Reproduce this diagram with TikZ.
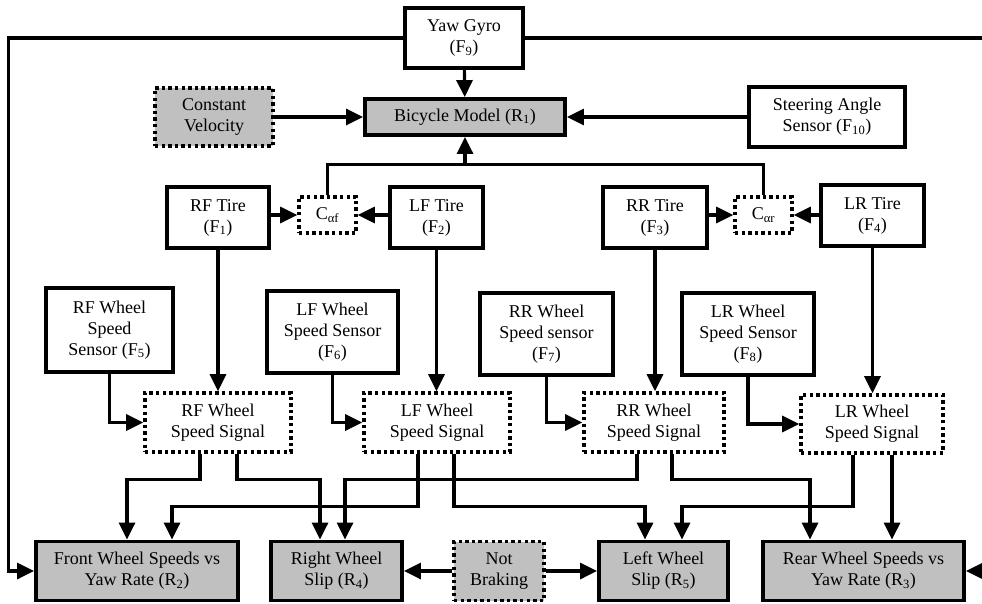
\documentclass[tikz,border=0pt]{standalone}
\usepackage{fontspec}
\setmainfont{Liberation Serif}
\usetikzlibrary{arrows.meta}
\definecolor{boxgray}{RGB}{192,192,192}
\begin{document}
\begin{tikzpicture}[x=1pt,y=-1pt,
  every node/.style={font=\fontsize{18}{21}\selectfont, align=center, inner sep=0pt},
  solidbox/.style={draw, line width=3.8pt},
  dotbox/.style={draw, line width=3.6pt, dash pattern=on 3.4pt off 3.2pt},
  grayfill/.style={fill=boxgray},
  conn/.style={line width=3.1pt},
  arr/.style={conn, -{Triangle[length=17pt,width=16pt]}},
  sz/.style 2 args={minimum width=#1, minimum height=#2}]
\useasboundingbox (0,0) rectangle (982,604);
\clip (0,0) rectangle (982,604);

% top
\node[solidbox, sz={118pt}{60pt}] (gyro) at (464,38) {Yaw Gyro\\(F\textsubscript{9})};
\node[solidbox, grayfill, sz={200pt}{36pt}] (bike) at (465,117) {Bicycle Model (R\textsubscript{1})};
\node[dotbox, grayfill, sz={118pt}{58pt}] (constv) at (214,117) {Constant\\Velocity};
\node[solidbox, sz={156pt}{60pt}] (steer) at (827,117) {Steering Angle\\Sensor (F\textsubscript{10})};

% tires
\node[solidbox, sz={102pt}{61pt}] (rft) at (218,217.5) {RF Tire\\(F\textsubscript{1})};
\node[dotbox, sz={57pt}{36pt}] (caf) at (327.5,215) {C\textsubscript{αf}};
\node[solidbox, sz={93pt}{61pt}] (lft) at (436.5,217.5) {LF Tire\\(F\textsubscript{2})};
\node[solidbox, sz={104pt}{61pt}] (rrt) at (655,217.5) {RR Tire\\(F\textsubscript{3})};
\node[dotbox, sz={57pt}{36pt}] (car) at (763.5,215) {C\textsubscript{αr}};
\node[solidbox, sz={103pt}{61pt}] (lrt) at (872.5,215.5) {LR Tire\\(F\textsubscript{4})};

% sensors
\node[solidbox, sz={127pt}{84pt}] (rfs) at (109.5,330) {RF Wheel\\Speed\\Sensor (F\textsubscript{5})};
\node[solidbox, sz={131pt}{82pt}] (lfs) at (332.5,332) {LF Wheel\\Speed Sensor\\(F\textsubscript{6})};
\node[solidbox, sz={133pt}{82pt}] (rrs) at (546.5,334) {RR Wheel\\Speed sensor\\(F\textsubscript{7})};
\node[solidbox, sz={132pt}{82pt}] (lrs) at (748,334) {LR Wheel\\Speed Sensor\\(F\textsubscript{8})};

% signals
\node[dotbox, sz={146pt}{59pt}] (rfsig) at (218,422.5) {RF Wheel\\Speed Signal};
\node[dotbox, sz={146pt}{59pt}] (lfsig) at (437,422.5) {LF Wheel\\Speed Signal};
\node[dotbox, sz={140pt}{59pt}] (rrsig) at (654,422.5) {RR Wheel\\Speed Signal};
\node[dotbox, sz={142pt}{58pt}] (lrsig) at (872,424) {LR Wheel\\Speed Signal};

% results
\node[solidbox, grayfill, sz={202pt}{59pt}] (front) at (137,571) {Front Wheel Speeds vs\\Yaw Rate (R\textsubscript{2})};
\node[solidbox, grayfill, sz={131pt}{59pt}] (rslip) at (336.5,571) {Right Wheel\\Slip (R\textsubscript{4})};
\node[dotbox, grayfill, sz={90pt}{59pt}] (notb) at (499,571) {Not\\Braking};
\node[solidbox, grayfill, sz={129pt}{59pt}] (lslip) at (663.5,571) {Left Wheel\\Slip (R\textsubscript{5})};
\node[solidbox, grayfill, sz={201pt}{59pt}] (rear) at (863.5,571) {Rear Wheel Speeds vs\\Yaw Rate (R\textsubscript{3})};

% yaw gyro feedback
\draw[arr] (gyro.west) -| ([xshift=-26pt]front.west) -- (front.west);
\draw[arr] (gyro.east) -| ([xshift=30pt]rear.east) -- (rear.east);

% into bicycle model
\draw[arr] (gyro) -- (bike);
\draw[arr] (constv) -- (bike);
\draw[arr] (steer) -- (bike);
\coordinate (junc) at (465,166);
\draw[conn] (caf.north) -- ++(0,-31) -| (car.north);
\draw[arr] (junc) -- (bike.south);

% tires to C
\draw[arr] (rft.east |- caf.west) -- (caf.west);
\draw[arr] (lft.west |- caf.east) -- (caf.east);
\draw[arr] (rrt.east |- car.west) -- (car.west);
\draw[arr] (lrt.west |- car.east) -- (car.east);

% tires to signals
\draw[arr] (rft.south) -- (rft.south |- rfsig.north);
\draw[arr] (lft.south) -- (lft.south |- lfsig.north);
\draw[arr] (rrt.south) -- (rrt.south |- rrsig.north);
\draw[arr] (lrt.south) -- (lrt.south |- lrsig.north);

% sensors to signals
\draw[arr] (rfs.south) |- (rfsig.west);
\draw[arr] (lfs.south) |- (lfsig.west);
\draw[arr] (rrs.south) |- (rrsig.west);
\draw[arr] (lrs.south) |- (lrsig.west);

% signals to results
\draw[arr] ([xshift=-18pt]rfsig.south) -- ++(0,26) -| ([xshift=-10pt]front.north);
\draw[arr] ([xshift=19pt]rfsig.south) -- ++(0,26) -| ([xshift=-16.5pt]rslip.north);
\draw[arr] ([xshift=-19pt]lfsig.south) -- ++(0,53) -| ([xshift=35pt]front.north);
\draw[arr] ([xshift=17pt]lfsig.south) -- ++(0,53) -| ([xshift=-18.5pt]lslip.north);
\draw[arr] ([xshift=-17pt]rrsig.south) -- ++(0,26) -| ([xshift=8.5pt]rslip.north);
\draw[arr] ([xshift=18pt]rrsig.south) -- ++(0,26) -| ([xshift=-53.5pt]rear.north);
\draw[arr] ([xshift=-19pt]lrsig.south) -- ++(0,52) -| ([xshift=18.5pt]lslip.north);
\draw[arr] ([xshift=20pt]lrsig.south) -- ([xshift=20pt]lrsig.south |- rear.north);

% not braking
\draw[arr] (notb.west) -- (rslip.east);
\draw[arr] (notb.east) -- (lslip.west);
\end{tikzpicture}
\end{document}
